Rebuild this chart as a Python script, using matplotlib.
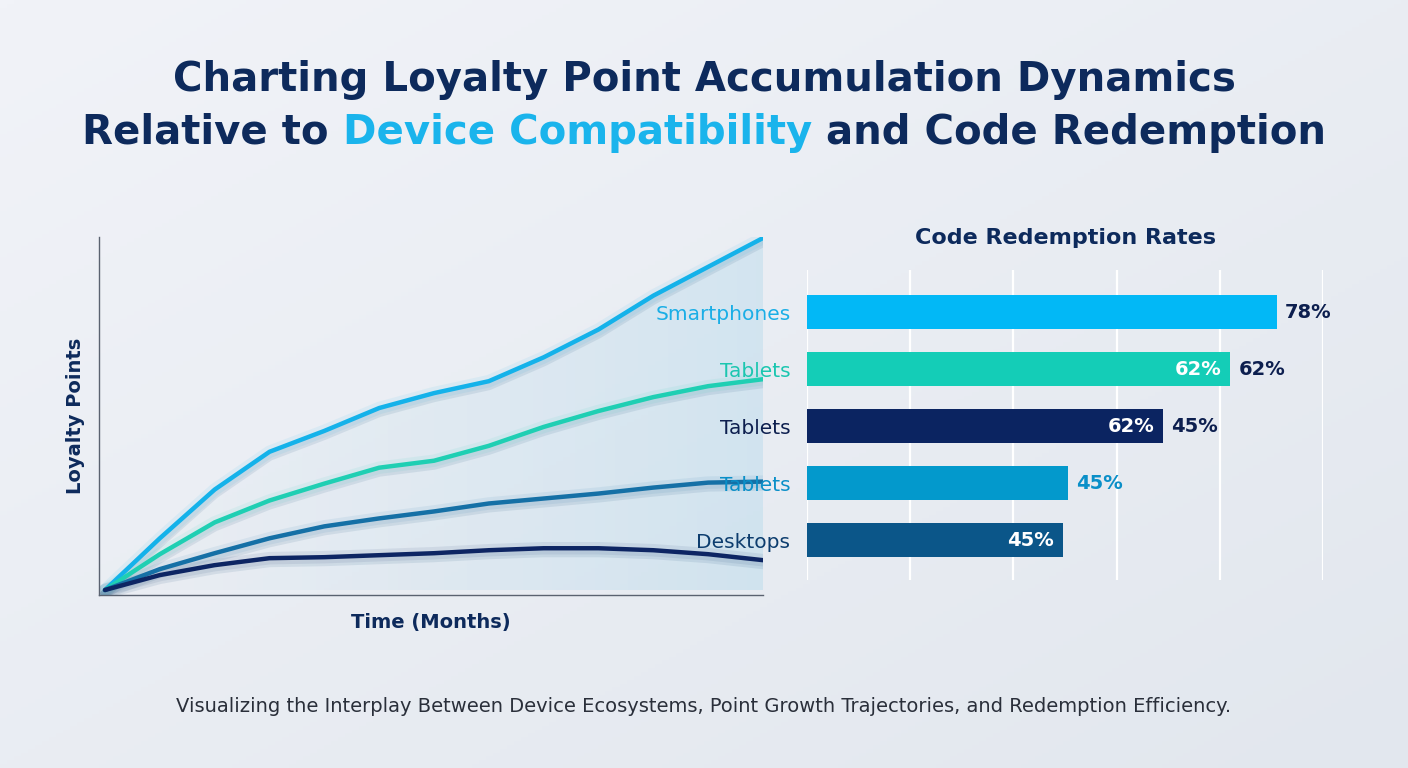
"""Loyalty point accumulation vs device compatibility and code redemption rates."""

import matplotlib

matplotlib.use("Agg")
import matplotlib.patheffects as pe
import matplotlib.pyplot as plt
import numpy as np
from matplotlib.patches import Polygon

# ---- data -------------------------------------------------------------
months = list(range(13))
smartphones_pts = [0, 5.2, 10.1, 13.9, 16.0, 18.3, 19.8, 21.0, 23.4, 26.2, 29.6, 32.5, 35.4]
tablets_green_pts = [0, 3.6, 6.8, 9.0, 10.7, 12.3, 13.0, 14.5, 16.4, 18.0, 19.4, 20.5, 21.2]
tablets_blue_pts = [0, 2.1, 3.7, 5.2, 6.4, 7.2, 7.9, 8.7, 9.2, 9.7, 10.3, 10.8, 10.9]
desktops_pts = [0, 1.5, 2.5, 3.2, 3.3, 3.5, 3.7, 4.0, 4.2, 4.2, 4.0, 3.6, 3.0]

bar_categories = ["Smartphones", "Tablets", "Tablets", "Tablets", "Desktops"]
bar_values = [91, 82, 69, 50.5, 49.5]
inside_labels = ["", "62%", "62%", "", "45%"]
outside_labels = ["78%", "62%", "45%", "45%", ""]

# ---- style ------------------------------------------------------------
NAVY = "#0d2a5c"
SKY = "#1ab4ec"
line_colors = ["#14b2ea", "#1fcfb3", "#1570a6", "#0d2563"]
bar_colors = ["#02b8f6", "#14cdb7", "#0b2461", "#0399cc", "#0b5689"]
cat_colors = ["#1aaee6", "#1bc6b0", "#0d1f4f", "#0a8fc8", "#0d3d6e"]
outside_colors = ["#0d1f4f", "#0d1f4f", "#0d1f4f", "#0a8fc8", "#0d1f4f"]

fig = plt.figure(figsize=(14.08, 7.68), dpi=100)

# background gradient
bg = fig.add_axes([0, 0, 1, 1], zorder=-10)
gy, gx = np.mgrid[0:1:200j, 0:1:200j]
shade = 0.5 * gy + 0.5 * gx
bg.imshow(shade, cmap=matplotlib.colors.LinearSegmentedColormap.from_list(
    "bg", ["#f1f3f8", "#e2e7ee"]), aspect="auto", extent=[0, 1, 0, 1], origin="upper")
bg.set_axis_off()

# ---- line chart ---------------------------------------------------------
ax = fig.add_axes([0.0703, 0.2253, 0.4716, 0.4661])
ax.set_facecolor("none")
ax.set_xlim(-0.11, 12)
ax.set_ylim(-0.5, 35.5)

# gradient area under the top curve, stronger towards the right
verts = [(months[0], 0)] + list(zip(months, smartphones_pts)) + [(months[-1], 0)]
poly = Polygon(verts, closed=True, facecolor="none", edgecolor="none")
ax.add_patch(poly)
grad = np.tile(np.linspace(0.0, 0.28, 200) ** 1.2, (50, 1))
rgba = np.zeros((50, 200, 4))
rgba[..., 0] = 0.50
rgba[..., 1] = 0.78
rgba[..., 2] = 0.90
rgba[..., 3] = grad
im = ax.imshow(rgba, extent=[0, 12, 0, 36], aspect="auto", origin="lower", zorder=1)
im.set_clip_path(poly)

series = [smartphones_pts, tablets_green_pts, tablets_blue_pts, desktops_pts]
for vals, col in zip(series, line_colors):
    ax.plot(months, vals, color=col, lw=9, alpha=0.08, solid_capstyle="round", zorder=2)
    ax.plot(months, vals, color=col, lw=3.2, solid_joinstyle="round", solid_capstyle="round", zorder=3,
            path_effects=[pe.SimpleLineShadow(offset=(0, -3), shadow_color="#1a4f7a", alpha=0.10, linewidth=7),
                          pe.Normal()])

ax.set_xticks([])
ax.set_yticks([])
for side in ("top", "right"):
    ax.spines[side].set_visible(False)
for side in ("left", "bottom"):
    ax.spines[side].set_color("#5a6270")
    ax.spines[side].set_linewidth(1.0)
ax.set_xlabel("Time (Months)", fontsize=14, color=NAVY, fontweight="semibold", labelpad=13)
ax.set_ylabel("Loyalty Points", fontsize=14, color=NAVY, fontweight="semibold", labelpad=10)

# ---- bar chart ------------------------------------------------------------
bx = fig.add_axes([0.5732, 0.2448, 0.3665, 0.4036])
bx.set_facecolor("none")
pos = np.arange(len(bar_values))
bx.barh(pos, bar_values, height=0.6, color=bar_colors, zorder=3)
bx.set_xlim(0, 100)
bx.set_ylim(4.70, -0.737)
bx.set_xticks(range(0, 101, 20))
bx.tick_params(axis="x", length=0, labelbottom=False)
bx.grid(axis="x", color="white", lw=1.6, zorder=0)
bx.set_yticks(pos)
bx.set_yticklabels(bar_categories, fontsize=14.5, fontweight="medium")
for lbl, col in zip(bx.get_yticklabels(), cat_colors):
    lbl.set_color(col)
bx.tick_params(axis="y", length=0, pad=12)
for s in bx.spines.values():
    s.set_visible(False)

for i, v in enumerate(bar_values):
    if inside_labels[i]:
        bx.annotate(inside_labels[i], (v, i), xytext=(-6, 0), textcoords="offset points",
                    ha="right", va="center", color="white", fontsize=14, fontweight="semibold", zorder=4)
    if outside_labels[i]:
        bx.annotate(outside_labels[i], (v, i), xytext=(6, 0), textcoords="offset points",
                    ha="left", va="center", color=outside_colors[i], fontsize=14, fontweight="semibold", zorder=4)

bx.set_title("Code Redemption Rates", fontsize=16, color=NAVY, fontweight="semibold", pad=19)

# ---- titles ------------------------------------------------------------------
title_kw = dict(fontsize=29, fontweight="bold", va="center")
fig.text(0.5, 1 - 80 / 768, "Charting Loyalty Point Accumulation Dynamics", ha="center", color=NAVY, **title_kw)

parts = [("Relative to ", NAVY), ("Device Compatibility", SKY), (" and Code Redemption", NAVY)]
renderer = fig.canvas.get_renderer()
texts = [fig.text(0, 1 - 133 / 768, p, color=c, ha="left", **title_kw) for p, c in parts]
widths = [t.get_window_extent(renderer).width / fig.bbox.width for t in texts]
x = 0.5 - sum(widths) / 2
for t, w in zip(texts, widths):
    t.set_x(x)
    x += w

fig.text(0.5, 1 - 706 / 768,
         "Visualizing the Interplay Between Device Ecosystems, Point Growth Trajectories, and Redemption Efficiency.",
         ha="center", va="center", fontsize=14, color="#2a2f3a")

fig.savefig("out.png", dpi=100)
